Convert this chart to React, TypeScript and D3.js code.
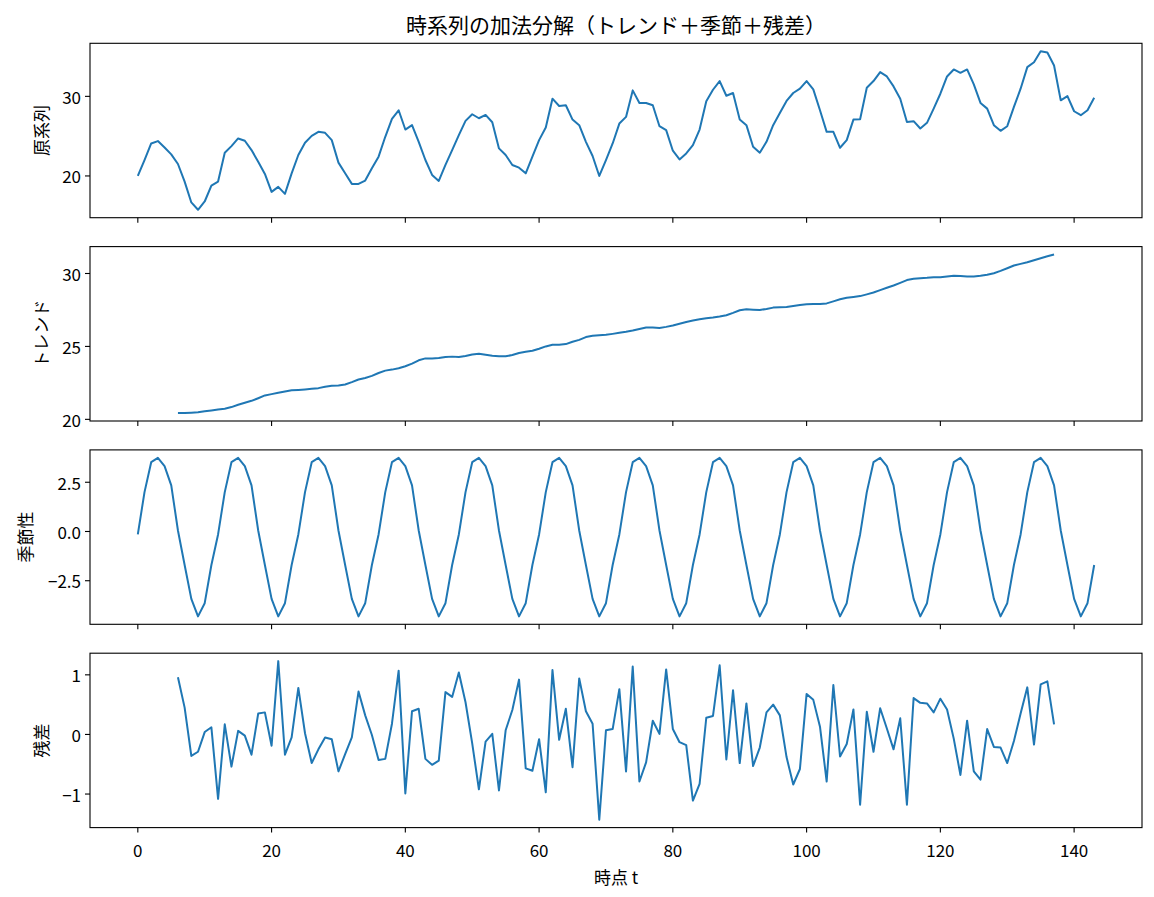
import * as d3 from 'd3';
import React from 'react';

const width = 1154;
const height = 897;
const plotLeft = 90;
const plotRight = 1142;
const panelTop = 43.3;
const panelHeight = 174.4;
const panelStep = 203.3;
const lineColor = '#1f77b4';
const font = '"Noto Sans CJK JP", "Noto Sans", sans-serif';

// 原系列 t = 0..143
const original = [
  20.0, 22.0, 24.08, 24.38, 23.58, 22.71, 21.5, 19.29, 16.67, 15.75, 16.79, 18.79,
  19.29, 22.92, 23.75, 24.71, 24.42, 23.25, 21.79, 20.25, 18.0, 18.63, 17.75, 20.33,
  22.63, 24.17, 25.04, 25.54, 25.42, 24.5, 21.67, 20.33, 19.0, 19.0, 19.42, 20.96,
  22.42, 24.92, 27.17, 28.25, 25.83, 26.38, 24.29, 22.0, 20.13, 19.38, 21.38, 23.25,
  25.13, 26.92, 27.75, 27.25, 27.67, 26.75, 23.46, 22.63, 21.38, 21.04, 20.33, 22.42,
  24.5, 26.08, 29.71, 28.79, 28.88, 27.08, 26.38, 24.29, 22.5, 20.0, 22.0, 24.08,
  26.58, 27.42, 30.75, 29.17, 29.17, 28.88, 26.25, 25.75, 23.17, 22.08, 22.83, 23.88,
  25.83, 29.38, 30.83, 31.92, 30.08, 30.42, 27.08, 26.38, 23.67, 22.92, 24.29, 26.38,
  27.92, 29.42, 30.42, 30.96, 31.92, 30.88, 28.25, 25.54, 25.54, 23.54, 24.5, 27.08,
  27.13, 31.08, 31.92, 33.04, 32.5, 31.25, 29.71, 26.79, 26.88, 25.96, 26.67, 28.46,
  30.33, 32.5, 33.38, 32.96, 33.38, 31.5, 29.17, 28.46, 26.38, 25.67, 26.25, 28.67,
  30.96, 33.67, 34.29, 35.67, 35.5, 33.88, 29.5, 30.04, 28.13, 27.63, 28.25, 29.83,
];

// トレンド t = 6..137 (centered moving average, ends are missing)
const trendStart = 6;
const trend = [
  20.43, 20.43, 20.45, 20.48, 20.55, 20.61, 20.68, 20.73, 20.84, 21.0, 21.14, 21.27,
  21.45, 21.64, 21.73, 21.82, 21.91, 22.0, 22.02, 22.05, 22.09, 22.14, 22.23, 22.3,
  22.32, 22.39, 22.55, 22.73, 22.84, 22.98, 23.18, 23.34, 23.41, 23.5, 23.64, 23.82,
  24.05, 24.18, 24.18, 24.2, 24.27, 24.3, 24.27, 24.34, 24.45, 24.5, 24.43, 24.36,
  24.32, 24.32, 24.41, 24.55, 24.64, 24.7, 24.84, 25.0, 25.11, 25.11, 25.16, 25.32,
  25.45, 25.64, 25.73, 25.77, 25.8, 25.86, 25.93, 26.0, 26.09, 26.2, 26.3, 26.3,
  26.27, 26.34, 26.43, 26.55, 26.68, 26.77, 26.86, 26.93, 26.98, 27.05, 27.14, 27.3,
  27.48, 27.55, 27.52, 27.5, 27.57, 27.66, 27.68, 27.7, 27.77, 27.84, 27.89, 27.91,
  27.91, 27.95, 28.09, 28.23, 28.34, 28.39, 28.45, 28.57, 28.7, 28.86, 29.02, 29.18,
  29.36, 29.55, 29.64, 29.68, 29.7, 29.75, 29.75, 29.8, 29.84, 29.82, 29.8, 29.8,
  29.84, 29.91, 30.02, 30.18, 30.36, 30.55, 30.66, 30.77, 30.91, 31.05, 31.18, 31.3,
];

// 季節性: one 12-step cycle, repeated over the whole series
const seasonalCycle = [-0.15, 2.0, 3.52, 3.74, 3.32, 2.34, 0.05, -1.7, -3.42, -4.31, -3.64, -1.7];

// 残差 t = 6..137
const residual = [
  0.96, 0.45, -0.36, -0.29, 0.04, 0.12, -1.08, 0.17, -0.54, 0.06, -0.02, -0.34,
  0.35, 0.37, -0.19, 1.23, -0.34, -0.05, 0.78, 0.02, -0.48, -0.25, -0.05, -0.08,
  -0.62, -0.33, -0.05, 0.72, 0.32, -0.01, -0.43, -0.41, 0.18, 1.07, -0.99, 0.39,
  0.43, -0.41, -0.51, -0.44, 0.71, 0.63, 1.04, 0.54, -0.15, -0.92, -0.12, 0.01,
  -0.94, 0.07, 0.41, 0.92, -0.57, -0.61, -0.08, -0.97, 1.08, -0.09, 0.43, -0.55,
  0.94, 0.39, 0.18, -1.43, 0.07, 0.09, 0.76, -0.62, 1.14, -0.79, -0.47, 0.23,
  0.01, 1.09, 0.09, -0.13, -0.18, -1.11, -0.83, 0.28, 0.31, 1.16, -0.42, 0.74,
  -0.48, 0.52, -0.53, -0.22, 0.37, 0.5, 0.32, -0.38, -0.84, -0.58, 0.68, 0.58,
  0.13, -0.79, 0.83, -0.37, -0.16, 0.42, -1.18, 0.38, -0.29, 0.44, 0.1, -0.25,
  0.27, -1.18, 0.61, 0.53, 0.52, 0.37, 0.6, 0.42, -0.07, -0.68, 0.23, -0.62,
  -0.76, 0.09, -0.21, -0.22, -0.48, -0.11, 0.35, 0.79, -0.17, 0.84, 0.89, 0.17,
];

const xTicks = [0, 20, 40, 60, 80, 100, 120, 140];
const title = '時系列の加法分解（トレンド＋季節＋残差）';
const xLabel = '時点 t';

interface IPoint {
  t: number;
  v: number;
}

interface IPanel {
  label: string;
  points: IPoint[];
  ticks: number[];
  format: (n: number) => string;
  labelX: number;
}

const n = original.length;
const panels: IPanel[] = [
  {
    label: '原系列',
    points: original.map((v, t) => ({ t, v })),
    ticks: [20, 30],
    format: d3.format('d'),
    labelX: 40,
  },
  {
    label: 'トレンド',
    points: trend.map((v, i) => ({ t: i + trendStart, v })),
    ticks: [20, 25, 30],
    format: d3.format('d'),
    labelX: 40,
  },
  {
    label: '季節性',
    points: d3.range(n).map(t => ({ t, v: seasonalCycle[t % seasonalCycle.length] })),
    ticks: [-2.5, 0, 2.5],
    format: d3.format('.1f'),
    labelX: 24,
  },
  {
    label: '残差',
    points: residual.map((v, i) => ({ t: i + trendStart, v })),
    ticks: [-1, 0, 1],
    format: d3.format('d'),
    labelX: 40,
  },
];

// matplotlib-like 5% padding
const padded = (lo: number, hi: number, frac = 0.05) => {
  const d = (hi - lo) * frac;
  return [lo - d, hi + d];
};

const xScale = d3
  .scaleLinear()
  .domain(padded(0, n - 1))
  .range([plotLeft, plotRight]);

export default function App() {
  return (
    <svg
      width={width}
      height={height}
      style={{ position: 'absolute', left: 0, top: 0, background: '#fff', fontFamily: font }}
    >
      <rect width={width} height={height} fill="#fff" />
      <text x={(plotLeft + plotRight) / 2} y={33} textAnchor="middle" fontSize={21} fill="#000">
        {title}
      </text>
      {panels.map((p, i) => {
        const top = panelTop + i * panelStep;
        const bottom = top + panelHeight;
        const [lo, hi] = d3.extent(p.points, d => d.v) as [number, number];
        const yScale = d3.scaleLinear().domain(padded(lo, hi)).range([bottom, top]);
        const line = d3
          .line<IPoint>()
          .x(d => xScale(d.t))
          .y(d => yScale(d.v));
        const isLast = i === panels.length - 1;
        return (
          <g key={p.label}>
            <path d={line(p.points) || ''} fill="none" stroke={lineColor} strokeWidth={2} strokeLinejoin="round" />
            {p.ticks.map(tk => (
              <g key={tk} transform={`translate(0,${yScale(tk)})`}>
                <line x1={plotLeft - 5} x2={plotLeft} stroke="#000" strokeWidth={1.1} />
                <text x={plotLeft - 9} dominantBaseline="central" textAnchor="end" fontSize={17} fill="#000">
                  {p.format(tk)}
                </text>
              </g>
            ))}
            {xTicks.map(tk => (
              <g key={tk} transform={`translate(${xScale(tk)},${bottom})`}>
                <line y1={0} y2={5} stroke="#000" strokeWidth={1.1} />
                {isLast && (
                  <text y={29} textAnchor="middle" fontSize={17} fill="#000">
                    {tk}
                  </text>
                )}
              </g>
            ))}
            <rect
              x={plotLeft}
              y={top}
              width={plotRight - plotLeft}
              height={panelHeight}
              fill="none"
              stroke="#000"
              strokeWidth={1.1}
            />
            <text
              transform={`translate(${p.labelX},${(top + bottom) / 2}) rotate(-90)`}
              textAnchor="middle"
              dominantBaseline="central"
              fontSize={17}
              fill="#000"
            >
              {p.label}
            </text>
          </g>
        );
      })}
      <text x={(plotLeft + plotRight) / 2} y={884} textAnchor="middle" fontSize={17} fill="#000">
        {xLabel}
      </text>
    </svg>
  );
}
